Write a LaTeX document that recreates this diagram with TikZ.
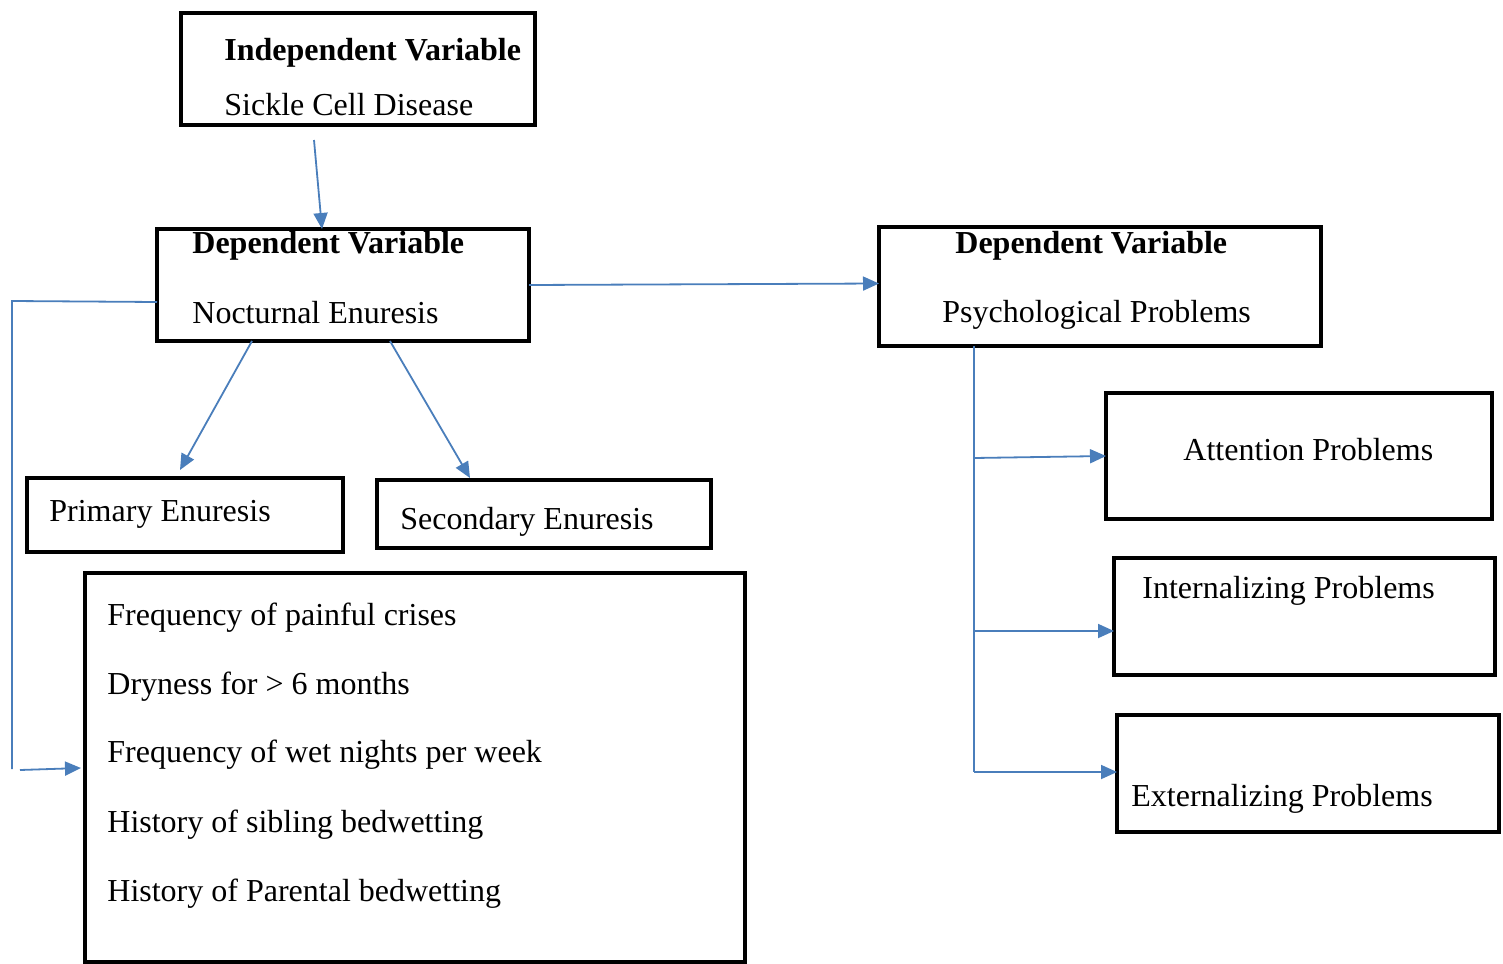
\documentclass[tikz,border=0pt]{standalone}
\usepackage{fontspec}
\setmainfont{Liberation Serif}
\usetikzlibrary{arrows.meta,calc}
\definecolor{linkblue}{RGB}{74,126,187}
\tikzset{
  box/.style={draw=black, line width=2pt, inner sep=0pt, outer sep=0pt, anchor=north west},
  txt/.style={anchor=base west, inner sep=0pt, font=\fontsize{16}{19}\selectfont},
  btxt/.style={txt, font=\fontsize{16}{19}\selectfont\bfseries},
  link/.style={draw=linkblue, line width=0.9pt},
  arr/.style={link, -{Triangle[length=8pt,width=7pt]}}
}
\begin{document}
\begin{tikzpicture}[x=0.5pt,y=-0.5pt]
\useasboundingbox (0,0) rectangle (1503,963);
% boxes
\node[box, minimum width=177pt, minimum height=56pt] (iv) at (181,13) {};
\node[box, minimum width=186pt, minimum height=56pt] (noct) at (157,229) {};
\node[box, minimum width=221pt, minimum height=59.5pt] (psy) at (879,227) {};
\node[box, minimum width=158pt, minimum height=37pt] (prim) at (27,478) {};
\node[box, minimum width=167pt, minimum height=34pt] (sec) at (377,480) {};
\node[box, minimum width=330pt, minimum height=194.5pt] (big) at (85,573) {};
\node[box, minimum width=193pt, minimum height=63pt] (att) at (1106,393) {};
\node[box, minimum width=190.5pt, minimum height=58.5pt] (int) at (1114,558) {};
\node[box, minimum width=191pt, minimum height=58.5pt] (ext) at (1117,715) {};
% texts
\node[btxt] (t1) at (224,61) {Independent Variable};
\node[txt] (t2) at (224,115) {Sickle Cell Disease};
\node[btxt] (t3) at (192,253) {Dependent Variable};
\node[txt] (t4) at (192,323) {Nocturnal Enuresis};
\node[btxt] (t5) at (955,253) {Dependent Variable};
\node[txt] (t6) at (942,322) {Psychological Problems};
\node[txt] (t7) at (49,521) {Primary Enuresis};
\node[txt] (t8) at (400,529) {Secondary Enuresis};
\node[txt] (t9) at (107,625) {Frequency of painful crises};
\node[txt] (t10) at (107,694) {Dryness for > 6 months};
\node[txt] (t11) at (107,762) {Frequency of wet nights per week};
\node[txt] (t12) at (107,832) {History of sibling bedwetting};
\node[txt] (t13) at (107,901) {History of Parental bedwetting};
\node[txt] (t14) at (1183,460) {Attention Problems};
\node[txt] (t15) at (1142,598) {Internalizing Problems};
\node[txt] (t16) at (1131,806) {Externalizing Problems};
% connectors
\draw[arr] ($(iv.south west)+(133,15)$) -- ($(noct.north west)+(165,0)$);
\draw[arr] (noct.east) -- ($(psy.west)+(0,-3)$);
\draw[arr] ($(noct.south west)+(95,0)$) -- ($(prim.north west)+(153,-8)$);
\draw[arr] ($(noct.south west)+(233,0)$) -- ($(sec.north west)+(93,-2)$);
\coordinate (lc) at (12,301);
\coordinate (lb) at (12,769);
\coordinate (la) at (20,770);
\draw[link] ($(noct.north west)+(0,73)$) -- (lc) -- (lb);
\draw[arr] (la) -- ($(big.north west)+(-4,195)$);
\coordinate (rb) at (974,772);
\draw[link] ($(psy.south west)+(95,0)$) -- (rb);
\draw[arr] ($(psy.south west)+(95,112)$) -- (att.west);
\draw[arr] ($(psy.south west)+(95,285)$) -- ($(int.south west)+(0,-44)$);
\draw[arr] (rb) -- ($(ext.north west)+(0,57)$);
\end{tikzpicture}
\end{document}
